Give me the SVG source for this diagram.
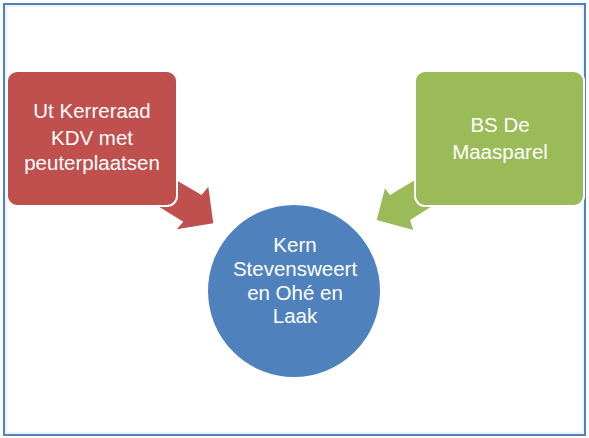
<svg xmlns="http://www.w3.org/2000/svg" width="589" height="438" viewBox="0 0 589 438">
<style>
.t{font-family:"Liberation Sans",Arial,sans-serif;font-size:20.5px;fill:#ffffff;text-anchor:middle}
.node{stroke:#ffffff;stroke-width:2}
</style>
<rect x="0" y="0" width="589" height="438" fill="#ffffff"/>
<rect x="4" y="4" width="581" height="431" fill="none" stroke="#4f81bd" stroke-width="2"/>
<rect x="6" y="6" width="577" height="427" fill="none" stroke="#dce6f2" stroke-width="1"/>
<g id="connectors">
<polygon points="150,165 201.7,195 208.3,186.7 213.3,223.3 176.7,229.3 183.3,221.7 140,195" fill="#c0504d"/>
<polygon points="440,165 390,195 385,188.3 376.7,220 413.3,230 410,220 450,195" fill="#9bbb59"/>
</g>
<g id="node-kdv">
<rect class="node" x="7" y="71" width="170" height="135" rx="10" fill="#c0504d"/>
<text class="t" x="92" y="118">Ut Kerreraad</text>
<text class="t" x="92" y="145">KDV met</text>
<text class="t" x="92" y="170">peuterplaatsen</text>
</g>
<g id="node-bs">
<rect class="node" x="415" y="71" width="169" height="135" rx="10" fill="#9bbb59"/>
<text class="t" x="500" y="132">BS De</text>
<text class="t" x="500" y="159">Maasparel</text>
</g>
<g id="node-kern">
<circle class="node" cx="294" cy="291" r="87" fill="#4f81bd"/>
<text class="t" x="295" y="252">Kern</text>
<text class="t" x="295" y="276">Stevensweert</text>
<text class="t" x="295" y="300">en Ohé en</text>
<text class="t" x="295" y="323">Laak</text>
</g>
</svg>
